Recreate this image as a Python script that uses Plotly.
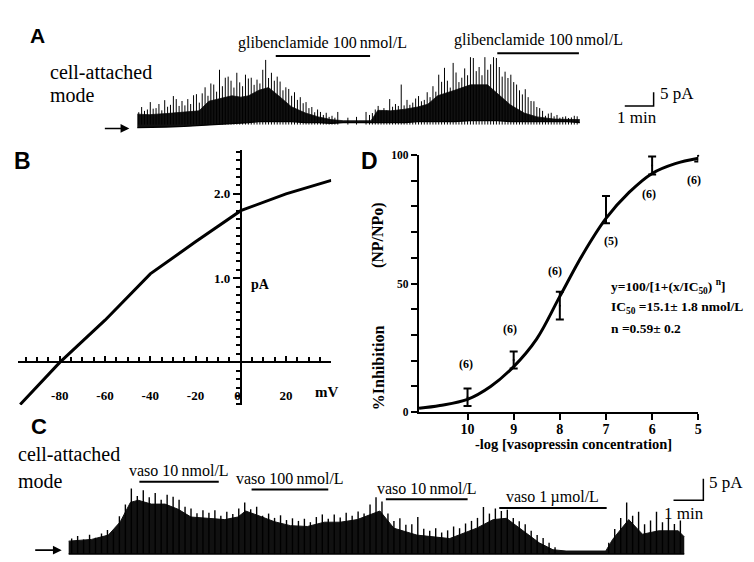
import plotly.graph_objects as go

# window is 754x562; the page body has an 8 px margin, so the figure is drawn 8 px in
OFF = 8
FW, FH = 754 - OFF, 562 - OFF
SERIF = "Liberation Serif, Times New Roman, serif"
SANS = "Liberation Sans, Arial, sans-serif"

# ---------------- Panel A: single-channel trace (time in min, current in pA) ----------------
A_T = [0.0, 0.41, 1.0, 1.62, 2.14, 2.48, 2.90, 3.28, 3.59, 3.86, 4.21, 4.55, 4.90, 5.34, 5.83,
       6.28, 6.72, 7.14, 7.66, 8.10, 8.34, 8.79, 9.28, 9.72, 10.07, 10.41, 11.0, 11.55, 12.14,
       12.48, 12.93, 13.41, 13.86, 14.45, 14.90, 15.34]
A_LOW = [-1.1, -1.1, -0.9, -0.7, -0.4, -0.2, 0.0, 0.4, 0.4, 0.7, 1.1, 1.1, 1.1, 1.1, 0.7,
         0.7, 0.4, 0.7, 0.7, 0.7, 0.7, 0.7, 0.7, 1.1, 1.1, 1.1, 1.1, 1.4, 1.4,
         1.4, 1.1, 1.1, 1.1, 1.1, 1.1, 0.7]
A_HIGH = [3.8, 3.6, 4.0, 4.6, 5.0, 8.5, 9.5, 10.5, 10.0, 10.5, 12.5, 13.5, 10.5, 6.5, 4.2,
          2.8, 1.8, 1.4, 1.4, 1.4, 5.2, 5.0, 5.6, 6.4, 7.4, 10.5, 12.5, 14.5, 14.5,
          11.5, 7.2, 4.2, 2.8, 2.0, 1.8, 1.8]
A_SPIKE_T = [0.05, 0.15, 0.25, 0.35, 0.45, 0.55, 0.65, 0.75, 0.85, 0.95, 1.05, 1.15, 1.25, 1.35,
             1.45, 1.55, 1.65, 1.75, 1.85, 1.95, 2.05, 2.15, 2.25, 2.35, 2.45, 2.55, 2.65, 2.75,
             2.85, 2.95, 3.05, 3.15, 3.25, 3.35, 3.45, 3.55, 3.65, 3.75, 3.85, 3.95, 4.05, 4.15,
             4.25, 4.35, 4.45, 4.55, 4.65, 4.75, 4.85, 4.95, 5.05, 5.15, 5.25, 5.35, 5.45, 5.55,
             5.65, 5.75, 5.85, 5.95, 6.05, 6.15, 6.25, 6.35, 6.45, 6.55, 6.65, 6.75, 6.85, 6.95,
             7.3, 7.6,
             7.93, 8.05, 8.15, 8.25, 8.35, 8.45, 8.55, 8.65, 8.75, 8.85, 8.95, 9.05, 9.15, 9.25,
             9.35, 9.45, 9.55, 9.65, 9.75, 9.85, 9.95, 10.05, 10.15, 10.25, 10.35, 10.45, 10.55,
             10.65, 10.75, 10.85, 10.95, 11.05, 11.15, 11.25, 11.35, 11.45, 11.55, 11.65, 11.75,
             11.85, 11.95, 12.05, 12.15, 12.25, 12.35, 12.45, 12.55, 12.65, 12.75, 12.85, 12.95,
             13.05, 13.15, 13.25, 13.35, 13.45, 13.55, 13.65, 13.75, 13.85, 13.95, 14.05, 14.15,
             14.25, 14.35, 14.45, 14.55, 14.65, 14.75, 14.85, 14.95, 15.05, 15.15, 15.25]
A_SPIKE_PA = [4.5, 6.4, 5.0, 5.5, 8.2, 5.8, 6.0, 7.5, 5.2, 8.9, 6.5, 7.2, 10.4, 9.3,
              6.8, 8.6, 7.0, 9.3, 7.5, 10.7, 11.1, 8.0, 11.4, 13.6, 10.5, 15.0, 14.6, 12.0,
              20.0, 14.0, 17.1, 17.5, 16.0, 13.5, 18.9, 15.4, 14.0, 18.2, 16.8, 17.1, 14.5, 16.4,
              15.0, 20.0, 23.6, 17.0, 18.9, 16.0, 17.5, 15.7, 12.5, 13.6, 13.0, 10.5, 11.8, 9.0,
              10.0, 7.8, 8.2, 6.0, 6.4, 4.5, 5.5, 4.6, 3.5, 4.3, 2.8, 3.2, 2.5, 4.6,
              2.5, 2.8,
              4.6, 3.5, 4.2, 5.5, 6.8, 5.0, 6.0, 5.2, 9.3, 6.5, 7.5, 6.8, 14.6, 7.0,
              9.0, 7.2, 8.0, 9.5, 10.4, 8.5, 9.0, 11.8, 10.0, 14.0, 12.0, 18.2, 15.6,
              20.7, 16.0, 13.5, 22.5, 19.0, 15.5, 17.1, 20.5, 18.0, 24.6, 24.3, 19.5,
              21.0, 18.0, 24.6, 20.0, 22.0, 24.6, 24.3, 21.0, 17.5, 19.3, 17.0, 18.2,
              15.5, 14.6, 12.5, 11.0, 12.9, 10.0, 8.6, 8.5, 6.4, 6.0, 5.0, 3.2,
              4.0, 4.3, 3.0, 3.5, 2.5, 2.8, 3.0, 2.4, 2.6, 3.2, 3.0]
GLIB_ON = [4.8, 12.48]
GLIB_OFF = [8.07, 15.31]
GLIB_LABEL = "glibenclamide 100\u2009nmol/L"

# ---------------- Panel B: I-V relation ----------------
B_MV = [-97.5, -80, -60, -40, -20, -7, 0, 20, 40]
B_PA = [-0.5, 0.0, 0.5, 1.05, 1.43, 1.67, 1.80, 2.0, 2.16]
B_XTICKS = [-80, -60, -40, -20, 0, 20]
B_XTICKTEXT = ["-80", "-60", "-40", "-20", "0\u00a0\u00a0", "20"]
B_YTICKS = [-0.5, 0.0, 0.5, 1.0, 1.5, 2.0, 2.5]
B_YTICKTEXT = ["", "", "", "1.0", "", "2.0", ""]

# ---------------- Panel C: trace with vasopressin ----------------
C_T = [0.0, 0.77, 1.33, 1.73, 2.07, 2.33, 2.77, 3.23, 3.67, 4.1, 4.67, 5.23, 5.67, 5.93, 6.33,
       6.9, 7.43, 8.0, 8.57, 9.1, 9.67, 10.23, 10.43, 10.9, 11.67, 12.77, 13.67, 14.23, 14.67,
       15.23, 15.77, 16.23, 16.67, 18.0, 18.23, 18.77, 19.23, 19.77, 20.43, 20.63]
C_BODY = [3.0, 3.4, 4.4, 7.5, 12.0, 12.5, 11.6, 11.6, 10.4, 8.6, 8.3, 8.0, 8.6, 10.0, 9.0,
          7.5, 6.6, 6.4, 7.4, 7.4, 8.0, 9.4, 10.0, 6.0, 4.4, 3.6, 6.0, 8.0, 8.3,
          5.4, 2.6, 1.0, 0.7, 0.7, 3.4, 8.0, 4.6, 5.4, 5.4, 4.0]
C_SPIKE_T = [0.1, 0.3, 0.5, 0.7, 0.9, 1.1, 1.3, 1.5, 1.7, 1.9, 2.1, 2.3, 2.5, 2.7, 2.9, 3.1,
             3.3, 3.5, 3.7, 3.9, 4.1, 4.3, 4.5, 4.7, 4.9, 5.1, 5.3, 5.5, 5.7, 5.9, 6.1, 6.3,
             6.5, 6.7, 6.9, 7.1, 7.3, 7.5, 7.7, 7.9, 8.1, 8.3, 8.5, 8.7, 8.9, 9.1, 9.3, 9.5,
             9.7, 9.9, 10.1, 10.3, 10.5, 10.7, 10.9, 11.1, 11.3, 11.5, 11.7, 11.9, 12.1, 12.3,
             12.5, 12.7, 12.9, 13.1, 13.3, 13.5, 13.7, 13.9, 14.1, 14.3, 14.5, 14.7, 14.9, 15.1,
             15.3, 15.5, 15.7, 15.9, 16.1, 16.3, 18.1, 18.3, 18.5, 18.7, 18.9, 19.1, 19.3, 19.5,
             19.7, 19.9, 20.1, 20.3, 20.5]
C_SPIKE_PA = [3.6, 4.2, 3.4, 4.5, 3.8, 4.8, 5.6, 5.2, 8.8, 11.5, 15.2, 13.5, 14.8, 13.2, 14.2, 12.6,
              13.8, 13.3, 12.6, 11.0, 10.6, 9.5, 10.2, 9.6, 10.2, 8.9, 9.8, 9.3, 10.6, 12.0, 10.4, 11.0,
              8.9, 9.4, 8.4, 9.0, 7.9, 8.3, 7.7, 8.2, 7.4, 8.6, 9.2, 8.2, 9.2, 8.5, 9.6, 8.9,
              9.9, 9.4, 11.5, 13.2, 12.2, 9.4, 7.7, 8.3, 6.8, 6.9, 8.6, 5.9, 5.4, 6.0,
              5.0, 5.5, 6.4, 6.0, 7.1, 7.7, 8.4, 10.9, 9.4, 10.6, 10.0, 10.3, 8.4, 7.6,
              6.9, 5.4, 4.4, 3.7, 2.6, 1.6, 2.6, 5.8, 8.4, 12.0, 8.9, 9.8, 6.9, 7.8,
              9.8, 7.4, 8.3, 7.0, 7.8]
VASO_ON = [2.37, 6.13, 10.63, 14.43]
VASO_OFF = [5.03, 8.7, 13.37, 18.03]
VASO_LABELS = ["vaso 10\u2009nmol/L", "vaso 100\u2009nmol/L", "vaso 10\u2009nmol/L", "vaso 1\u2009\u00b5mol/L"]

# ---------------- Panel D: dose-response ----------------
D_DOSE = [10, 9, 8, 7, 6, 5]
D_MEAN = [5.8, 20.3, 41.4, 78.7, 95.9, 99.7]
D_ERR = [3.4, 3.3, 5.4, 5.3, 3.5, 2.3]
D_N = [6, 6, 6, 5, 6, 6]
D_FIT_X = [11.05, 10.6, 10.0, 9.5, 9.0, 8.5, 8.0, 7.5, 7.0, 6.5, 6.0, 5.5, 5.0]
D_FIT_Y = [1.5, 2.6, 5.0, 10.0, 17.7, 28.5, 45.0, 61.4, 75.3, 85.4, 92.8, 96.6, 98.7]
D_XTICKS = [10, 9, 8, 7, 6, 5]
D_YTICKS = [0, 10, 20, 30, 40, 50, 60, 70, 80, 90, 100]
D_YTICKTEXT = ["0", "", "", "", "", "50", "", "", "", "", "100"]


# ---------------- layout helpers (window pixel -> paper) ----------------
def px(x):
    return (x - OFF) / FW


def py(y):
    return 1 - (y - OFF) / FH


def dx(p0, p1):
    return [px(p0), px(p1)]


def dy(top, bottom):
    return [py(bottom), py(top)]


def ann(text, x, y, size, family=SERIF, bold=False, xanchor="center", angle=0):
    return dict(text=text, x=px(x), y=py(y), xref="paper", yref="paper", showarrow=False,
                xanchor=xanchor, yanchor="middle", textangle=angle,
                font=dict(family=family, size=size, color="black",
                          weight="bold" if bold else "normal"))


fig = go.Figure()
BLACK = "black"
common = dict(showlegend=False, hoverinfo="skip")


def spikes(ts, ps):
    xs, ys = [], []
    for t, p in zip(ts, ps):
        xs += [t, t, None]
        ys += [0, p, None]
    return xs, ys


# ---- A traces ----
fig.add_trace(go.Scatter(x=A_T, y=A_LOW, mode="lines", line=dict(color=BLACK, width=1.3),
                         xaxis="x", yaxis="y", **common))
fig.add_trace(go.Scatter(x=A_T, y=A_HIGH, mode="lines", line=dict(color="#111", width=0.8),
                         fill="tonexty", fillcolor="#111", xaxis="x", yaxis="y", **common))
sx, sy = spikes(A_SPIKE_T, A_SPIKE_PA)
fig.add_trace(go.Scatter(x=sx, y=sy, mode="lines", line=dict(color=BLACK, width=1),
                         xaxis="x", yaxis="y", **common))
A_SB = (16.9, 6.8)
fig.add_trace(go.Scatter(x=[A_SB[0], A_SB[0] + 1, A_SB[0] + 1], y=[A_SB[1], A_SB[1], A_SB[1] + 5],
                         mode="lines", line=dict(color=BLACK, width=1.5), xaxis="x", yaxis="y", **common))

# ---- B ----
fig.add_trace(go.Scatter(x=B_MV, y=B_PA, mode="lines", line=dict(color=BLACK, width=3),
                         xaxis="x2", yaxis="y2", cliponaxis=False, **common))

# ---- D ----
fig.add_trace(go.Scatter(x=D_FIT_X, y=D_FIT_Y, mode="lines", line=dict(color=BLACK, width=3, shape="spline"),
                         xaxis="x3", yaxis="y3", cliponaxis=False, **common))
fig.add_trace(go.Scatter(x=D_DOSE, y=D_MEAN, mode="markers", marker=dict(size=2, color=BLACK),
                         error_y=dict(type="data", array=D_ERR, visible=True, color=BLACK,
                                      thickness=2, width=4),
                         xaxis="x3", yaxis="y3", cliponaxis=False, **common))

# ---- C ----
fig.add_trace(go.Scatter(x=C_T, y=C_BODY, mode="lines", line=dict(color="#111", width=1),
                         fill="tozeroy", fillcolor="#111", xaxis="x4", yaxis="y4", **common))
cx, cy = spikes(C_SPIKE_T, C_SPIKE_PA)
fig.add_trace(go.Scatter(x=cx, y=cy, mode="lines", line=dict(color=BLACK, width=1.4),
                         xaxis="x4", yaxis="y4", **common))
fig.add_trace(go.Scatter(x=[C_T[0], C_T[-1]], y=[0, 0], mode="lines", line=dict(color=BLACK, width=1.5),
                         xaxis="x4", yaxis="y4", **common))
C_SB = (20.27, 12.5)
fig.add_trace(go.Scatter(x=[C_SB[0], C_SB[0] + 1, C_SB[0] + 1], y=[C_SB[1], C_SB[1], C_SB[1] + 5],
                         mode="lines", line=dict(color=BLACK, width=1.5), xaxis="x4", yaxis="y4", **common))

hidden = dict(visible=False, showgrid=False, zeroline=False)

# A axes: 29 px/min starting at window px 138 ; 2.8 px/pA with 0 pA at window py 121
A_XPX, A_YPX = (95, 720), (15, 140)
a_xr = [(A_XPX[0] - 138) / 29, (A_XPX[1] - 138) / 29]
a_yr = [(121 - A_YPX[1]) / 2.8, (121 - A_YPX[0]) / 2.8]
# C axes: 30 px/min starting at window px 69 ; 4.4 px/pA with 0 pA at window py 560
C_XPX, C_YPX = (10, 745), (455, 562)
c_xr = [(C_XPX[0] - 69) / 30, (C_XPX[1] - 69) / 30]
c_yr = [(560 - C_YPX[1]) / 4.4, (560 - C_YPX[0]) / 4.4]

# B axes
B_XPX, B_YPX = (18, 333), (147, 408)
b_xr, b_yr = [-98.5, 40], [-0.51, 2.52]
b_xdom, b_ydom = dx(*B_XPX), dy(*B_YPX)
b_xpos = b_ydom[0] + (0 - b_yr[0]) / (b_yr[1] - b_yr[0]) * (b_ydom[1] - b_ydom[0])
b_ypos = b_xdom[0] + (0 - b_xr[0]) / (b_xr[1] - b_xr[0]) * (b_xdom[1] - b_xdom[0])
b_xminor = [v for v in range(-95, 41, 5) if v not in B_XTICKS]
b_yminor = [round(-0.5 + 0.1 * i, 1) for i in range(31)]

tickfont_b = dict(family=SERIF, size=13, color=BLACK, weight="bold")

fig.update_layout(
    width=FW, height=FH, margin=dict(l=0, r=0, t=0, b=0),
    paper_bgcolor="white", plot_bgcolor="rgba(0,0,0,0)",
    xaxis=dict(domain=dx(*A_XPX), range=a_xr, anchor="y", **hidden),
    yaxis=dict(domain=dy(*A_YPX), range=a_yr, anchor="x", **hidden),
    xaxis2=dict(domain=b_xdom, range=b_xr, anchor="free", position=b_xpos, showline=True,
                linecolor=BLACK, linewidth=2, ticks="inside", ticklen=5, tickwidth=1.5,
                tickcolor=BLACK, tickmode="array", tickvals=B_XTICKS, ticktext=B_XTICKTEXT,
                tickfont=tickfont_b, ticklabelstandoff=21, showgrid=False, zeroline=False,
                minor=dict(tickmode="array", tickvals=b_xminor, ticks="inside", ticklen=4,
                           tickwidth=1.5, tickcolor=BLACK, showgrid=False)),
    yaxis2=dict(domain=b_ydom, range=b_yr, anchor="free", position=b_ypos, showline=True,
                linecolor=BLACK, linewidth=2, ticks="outside", ticklen=7, tickwidth=1.5,
                tickcolor=BLACK, tickmode="array", tickvals=B_YTICKS, ticktext=B_YTICKTEXT,
                tickfont=tickfont_b, showgrid=False, zeroline=False,
                minor=dict(tickmode="array", tickvals=b_yminor, ticks="outside", ticklen=4,
                           tickwidth=1.5, tickcolor=BLACK, showgrid=False)),
    xaxis3=dict(domain=dx(421, 702), range=[11.056, 5], anchor="y3", showline=True,
                linecolor=BLACK, linewidth=2, ticks="outside", ticklen=6, tickwidth=1.5,
                tickcolor=BLACK, tickmode="array", tickvals=D_XTICKS,
                ticktext=[str(v) for v in D_XTICKS], ticklabelstandoff=-3,
                tickfont=dict(family=SERIF, size=14, color=BLACK, weight="bold"),
                showgrid=False, zeroline=False),
    yaxis3=dict(domain=dy(152, 415), range=[0, 100], anchor="x3", showline=True,
                linecolor=BLACK, linewidth=2, ticks="outside", ticklen=6, tickwidth=1.5,
                tickcolor=BLACK, tickmode="array", tickvals=D_YTICKS, ticktext=D_YTICKTEXT,
                tickfont=dict(family=SERIF, size=11.5, color=BLACK, weight="bold"),
                showgrid=False, zeroline=False),
    xaxis4=dict(domain=dx(*C_XPX), range=c_xr, anchor="y4", **hidden),
    yaxis4=dict(domain=dy(*C_YPX), range=c_yr, anchor="x4", **hidden),
)

shapes = []
annots = []

# A application bars and labels
GLIB_BAR_Y = [51, 48]
for on, off, by in zip(GLIB_ON, GLIB_OFF, GLIB_BAR_Y):
    shapes.append(dict(type="line", xref="x", yref="paper", x0=on, x1=off, y0=py(by), y1=py(by),
                       line=dict(color=BLACK, width=2)))
    annots.append(dict(text=GLIB_LABEL, x=(on + off) / 2, xref="x", y=py(by - 13), yref="paper",
                       showarrow=False, xanchor="center", yanchor="middle",
                       font=dict(family=SERIF, size=16, color=BLACK)))

# C application bars and labels
VASO_BAR_Y = [486, 494, 504, 513]
for on, off, by, lab in zip(VASO_ON, VASO_OFF, VASO_BAR_Y, VASO_LABELS):
    shapes.append(dict(type="line", xref="x4", yref="paper", x0=on, x1=off, y0=py(by), y1=py(by),
                       line=dict(color=BLACK, width=2)))
    annots.append(dict(text=lab, x=(on + off) / 2, xref="x4", y=py(by - 11), yref="paper",
                       showarrow=False, xanchor="center", yanchor="middle",
                       font=dict(family=SERIF, size=16, color=BLACK)))

# n labels for D
N_DX = [2, 4, 5, -5, 3, 4]
N_DY = [33, 31, 35, -31, -29, -24]
for d, m, n, ox, oy in zip(D_DOSE, D_MEAN, D_N, N_DX, N_DY):
    annots.append(dict(text=f"({n})", x=d, y=m, xref="x3", yref="y3", showarrow=False,
                       xshift=-ox, yshift=oy, font=dict(family=SERIF, size=12, color=BLACK, weight="bold")))

annots += [
    ann("A", 38, 30, 21, SANS, True),
    ann("cell-attached", 48, 67, 20, xanchor="left"),
    ann("mode", 48, 91, 20, xanchor="left"),
    ann("5 pA", 662, 89, 17, xanchor="left"),
    ann("1 min", 640, 114, 17),
    ann("B", 23, 158, 23, SANS, True),
    ann("pA", 262, 284, 14, SERIF, True),
    ann("mV", 328, 394, 15, SERIF, True),
    ann("D", 371, 158, 23, SANS, True),
    ann("%Inhibition", 380, 370, 16, SERIF, True, angle=-90),
    ann("(NP/NPo)", 380, 234, 16, SERIF, True, angle=-90),
    ann("-log [vasopressin concentration]", 577, 448, 14.5, SERIF, True),
    ann("y=100/[1+(x/IC<sub>50</sub>) <sup>n</sup>]", 612, 287, 13.5, SERIF, True, xanchor="left"),
    ann("IC<sub>50</sub> =15.1\u00b1 1.8 nmol/L", 612, 308, 13.5, SERIF, True, xanchor="left"),
    ann("n =0.59\u00b1 0.2", 612, 329, 13.5, SERIF, True, xanchor="left"),
    ann("C", 39, 430, 22, SANS, True),
    ann("cell-attached", 16, 458, 20, xanchor="left"),
    ann("mode", 16, 485, 20, xanchor="left"),
    ann("5 pA", 711, 487, 17, xanchor="left"),
    ann("1 min", 688, 519, 17),
]

# arrows marking the closed-channel level
for tipx, tipy, L in [(130, 125, 26), (62, 556, 28)]:
    annots.append(dict(text="", x=px(tipx), y=py(tipy), xref="paper", yref="paper",
                       showarrow=True, ax=-L, ay=0, arrowhead=2, arrowsize=1.1,
                       arrowwidth=1.6, arrowcolor=BLACK))

fig.update_layout(shapes=shapes, annotations=annots)
fig.write_html("out.html")
